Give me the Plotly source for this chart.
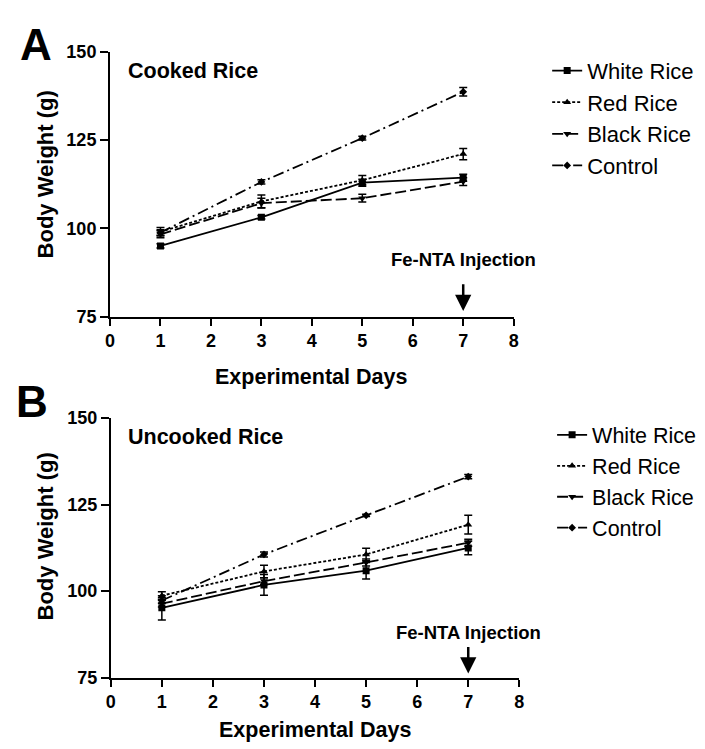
import plotly.graph_objects as go

days = [1, 3, 5, 7]
series_names = ["White Rice", "Red Rice", "Black Rice", "Control"]

# Panel A: Cooked rice (mean, error)
cooked_white = [95.0, 103.1, 112.9, 114.3]
cooked_white_err = [0.6, 0.5, 1.0, 1.0]
cooked_red = [99.0, 107.6, 113.6, 121.0]
cooked_red_err = [1.2, 1.8, 1.3, 1.6]
cooked_black = [98.3, 107.1, 108.5, 113.2]
cooked_black_err = [1.0, 1.4, 1.1, 1.1]
cooked_control = [98.8, 113.1, 125.5, 138.6]
cooked_control_err = [0.8, 0.6, 0.5, 1.2]

# Panel B: Uncooked rice
uncooked_white = [95.2, 101.8, 105.9, 112.5]
uncooked_white_err = [3.5, 3.0, 2.4, 2.0]
uncooked_red = [98.7, 105.7, 110.6, 119.2]
uncooked_red_err = [1.1, 1.8, 1.8, 2.7]
uncooked_black = [96.4, 102.9, 108.3, 114.0]
uncooked_black_err = [1.0, 1.0, 1.0, 1.0]
uncooked_control = [97.3, 110.6, 121.9, 133.1]
uncooked_control_err = [0.8, 0.7, 0.3, 0.6]

x_ticks = [0, 1, 2, 3, 4, 5, 6, 7, 8]
y_ticks = [75, 100, 125, 150]

FONT = "Liberation Sans, Arial, sans-serif"
styles = [
    dict(dash="solid", symbol="square", size=7),
    dict(dash="3px,2px", symbol="triangle-up", size=7),
    dict(dash="11px,4px", symbol="triangle-down", size=7),
    dict(dash="11px,4px,2px,4px", symbol="diamond", size=6),
]

fig = go.Figure()

panels = [
    ("x", "y", "legend", [cooked_white, cooked_red, cooked_black, cooked_control],
     [cooked_white_err, cooked_red_err, cooked_black_err, cooked_control_err]),
    ("x2", "y2", "legend2", [uncooked_white, uncooked_red, uncooked_black, uncooked_control],
     [uncooked_white_err, uncooked_red_err, uncooked_black_err, uncooked_control_err]),
]

for xa, ya, leg, vals, errs in panels:
    for name, v, e, st in zip(series_names, vals, errs, styles):
        fig.add_trace(go.Scatter(
            x=days, y=v, name=name, xaxis=xa, yaxis=ya, legend=leg,
            mode="lines+markers",
            line=dict(color="black", width=1.8, dash=st["dash"]),
            marker=dict(color="black", symbol=st["symbol"], size=st["size"]),
            error_y=dict(type="data", array=e, visible=True, color="black",
                         thickness=1.5, width=4),
        ))

axis_common = dict(
    showline=True, linecolor="black", linewidth=2,
    ticks="outside", tickcolor="black", tickwidth=2,
    showgrid=False, zeroline=False,
    tickfont=dict(family=FONT, size=18, color="black", weight="bold"),
)
x_text = [f"<b>{t}</b>" for t in x_ticks]
y_text = [f"<b>{t}</b>" for t in y_ticks]

fig.update_layout(
    width=705, height=749,
    margin=dict(l=0, r=0, t=0, b=0),
    paper_bgcolor="white", plot_bgcolor="white",
    showlegend=True,
    xaxis=dict(domain=[0.1511, 0.7319], range=[0, 8], tickvals=x_ticks, ticktext=x_text,
               ticklen=7, anchor="y", **axis_common),
    yaxis=dict(domain=[0.5794, 0.9430], range=[75, 150], tickvals=y_ticks, ticktext=y_text,
               ticklen=8, anchor="x", **axis_common),
    xaxis2=dict(domain=[0.1522, 0.7400], range=[0, 8], tickvals=x_ticks, ticktext=x_text,
                ticklen=7, anchor="y2", **axis_common),
    yaxis2=dict(domain=[0.0841, 0.4402], range=[75, 150], tickvals=y_ticks, ticktext=y_text,
                ticklen=8, anchor="x2", **axis_common),
    legend=dict(x=0.7801, y=0.9454, xanchor="left", yanchor="top",
                font=dict(family=FONT, size=22, color="black"),
                bgcolor="rgba(0,0,0,0)"),
    legend2=dict(x=0.7872, y=0.4453, xanchor="left", yanchor="top",
                 font=dict(family=FONT, size=21.5, color="black"),
                 bgcolor="rgba(0,0,0,0)"),
)

ann = []
def txt(text, x, y, size, bold=True, xanchor="center", angle=0, xref="paper", yref="paper"):
    ann.append(dict(text=text, x=x, y=y, xref=xref, yref=yref, showarrow=False,
                    xanchor=xanchor, yanchor="middle", textangle=angle,
                    font=dict(family=FONT, size=size, color="black",
                              weight="bold" if bold else "normal")))

# Panel letters
txt("A", 31.5 / 705, 1 - 35 / 749, 44)
txt("B", 27 / 705, 1 - 402 / 749, 44)
# Panel titles
txt("Cooked Rice", 123 / 705, 1 - 63 / 749, 21.5, xanchor="left")
txt("Uncooked Rice", 123 / 705, 1 - 438.5 / 749, 21.5, xanchor="left")
# Axis titles
txt("Experimental Days", 310 / 705, 1 - 377 / 749, 21.5)
txt("Experimental Days", 314 / 705, 1 - 740 / 749, 21.5)
txt("Body Weight (g)", 41.5 / 705, 1 - 169 / 749, 22, angle=-90)
txt("Body Weight (g)", 41.5 / 705, 1 - 541 / 749, 22, angle=-90)
# Injection labels
txt("Fe-NTA Injection", 7, 91.1, 18.5, xref="x", yref="y")
txt("Fe-NTA Injection", 7, 88.1, 18.5, xref="x2", yref="y2")

# Arrows
for xr, yr, tip, tail in [("x", "y", 76.6, 84.6), ("x2", "y2", 76.2, 84.3)]:
    ann.append(dict(text="", x=7, y=tip, ax=7, ay=tail, xref=xr, yref=yr,
                    axref=xr, ayref=yr, showarrow=True, arrowhead=2,
                    arrowsize=1.3, arrowwidth=2.5, arrowcolor="black", standoff=0))

fig.update_layout(annotations=ann)

pin = ("document.documentElement.style.margin='0';document.documentElement.style.padding='0';"
       "document.body.style.margin='0';document.body.style.padding='0';"
       "document.body.style.overflow='hidden';"
       "var d=document.getElementById('{plot_id}');"
       "d.style.position='fixed';d.style.top='0px';d.style.left='0px';")

fig.write_html("out.html", config={"displayModeBar": False}, post_script=pin)
